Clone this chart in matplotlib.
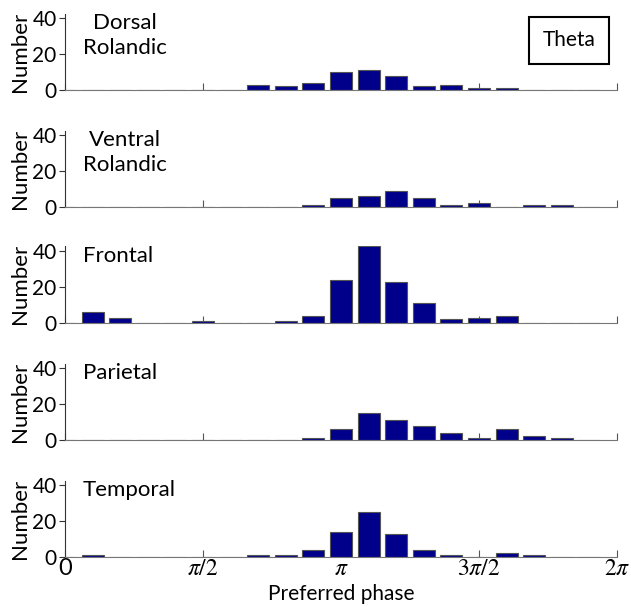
import numpy as np
import matplotlib.pyplot as plt

plt.rcParams['font.family'] = ['Lato', 'DejaVu Sans']
plt.rcParams['mathtext.fontset'] = 'stix'

# bin index k -> bin center k*pi/10
bins = np.arange(20)

regions = ["Dorsal\nRolandic", "Ventral\nRolandic", "Frontal", "Parietal", "Temporal"]

dorsal = [0, 0, 0, 0, 0, 0, 0, 3, 2, 4, 10, 11, 8, 2, 3, 1, 1, 0, 0, 0]
ventral = [0, 0, 0, 0, 0, 0, 0, 0, 0, 1, 5, 6, 9, 5, 1, 2, 0, 1, 1, 0]
frontal = [0, 6, 3, 0, 0, 1, 0, 0, 1, 4, 24, 43, 23, 11, 2, 3, 4, 0, 0, 0]
parietal = [0, 0, 0, 0, 0, 0, 0, 0, 0, 1, 6, 15, 11, 8, 4, 1, 6, 2, 1, 0]
temporal = [0, 1, 0, 0, 0, 0, 0, 1, 1, 4, 14, 25, 13, 4, 1, 0, 2, 1, 0, 0]
counts = [dorsal, ventral, frontal, parietal, temporal]

xtick_labels = ["0", r"$\pi/2$", r"$\pi$", r"$3\pi/2$", r"$2\pi$"]

W, H = 631, 607
fig = plt.figure(figsize=(W / 100, H / 100), dpi=100)

px_per_unit = 1.8
zero_lines = [90, 207, 323, 440, 557]
bar_color = "#00008B"
centers = bins * np.pi / 10

for i, (name, c) in enumerate(zip(regions, counts)):
    top = 43 if max(c) > 40 else 42
    h = top * px_per_unit
    ax = fig.add_axes([65 / W, (H - zero_lines[i]) / H, 552 / W, h / H])
    ax.bar(centers, c, width=0.8 * np.pi / 10, color=bar_color,
           edgecolor="#555555", linewidth=0.8, zorder=2)
    ax.set_xlim(0, 2 * np.pi)
    ax.set_ylim(0, top)
    ax.set_yticks([0, 20, 40])
    ax.set_xticks(np.arange(5) * np.pi / 2)
    for s in ["top", "right"]:
        ax.spines[s].set_visible(False)
    ax.spines["left"].set_color("#333333")
    ax.spines["bottom"].set_color("#777777")
    ax.tick_params(axis="y", direction="out", length=4, labelsize=15,
                   color="#333333", pad=2)
    ax.tick_params(axis="x", direction="in", length=5, color="#555555",
                   labelsize=17, pad=1)
    if i < 4:
        ax.set_xticklabels([])
    else:
        ax.set_xticklabels(xtick_labels)
    ax.set_ylabel("Number", fontsize=16, labelpad=2)
    if "\n" in name:
        ax.text(60 / 552, 43 / top, name, transform=ax.transAxes,
                fontsize=16, ha="center", va="top", ma="center",
                linespacing=1.35)
    else:
        ax.text(18 / 552, 43 / top, name, transform=ax.transAxes,
                fontsize=16, ha="left", va="top")

    if i == 0:
        ax.text(0.913, 0.66, "Theta", transform=ax.transAxes, fontsize=15,
                ha="center", va="center",
                bbox=dict(boxstyle="square,pad=0.65", fc="white",
                          ec="black", lw=1.5))

fig.text(341 / W, 1 - 594 / H, "Preferred phase", fontsize=15,
         ha="center", va="center")

fig.savefig("out.png", dpi=100)
